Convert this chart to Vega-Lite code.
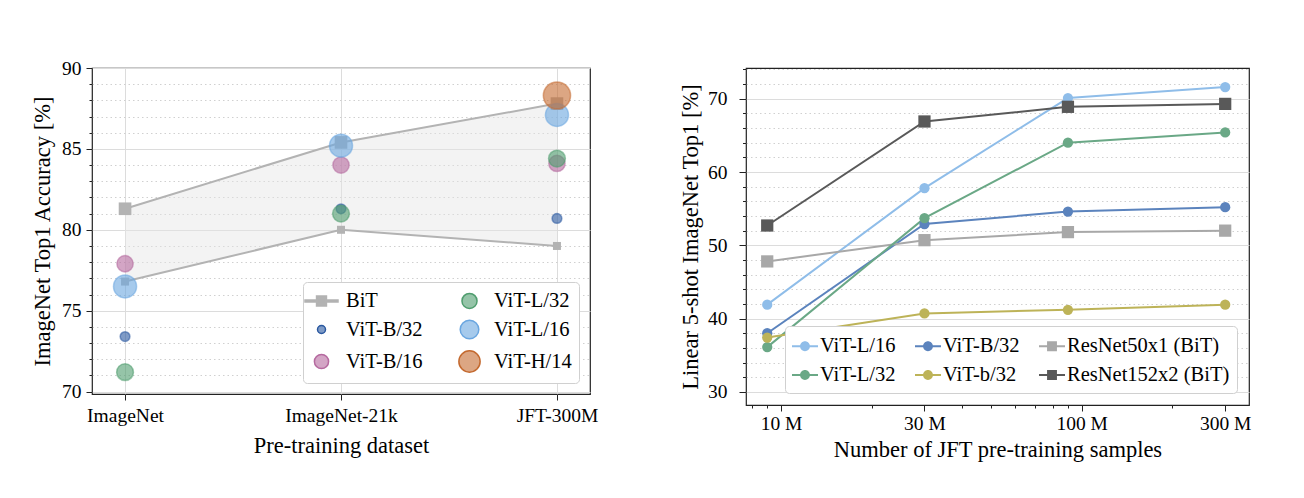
{
  "$schema": "https://vega.github.io/schema/vega-lite/v6.json",
  "padding": {"left": 30, "top": 57, "right": 5, "bottom": 5},
  "bounds": "flush",
  "spacing": 156,
  "datasets": {
    "bit": [
      {"ds": "ImageNet", "upper": 81.3, "lower": 76.8},
      {"ds": "ImageNet-21k", "upper": 85.4, "lower": 80.0},
      {"ds": "JFT-300M", "upper": 87.8, "lower": 79.0}
    ],
    "vit": [
      {"ds": "ImageNet", "model": "ViT-B/32", "acc": 73.4},
      {"ds": "ImageNet", "model": "ViT-B/16", "acc": 77.9},
      {"ds": "ImageNet", "model": "ViT-L/32", "acc": 71.2},
      {"ds": "ImageNet", "model": "ViT-L/16", "acc": 76.5},
      {"ds": "ImageNet-21k", "model": "ViT-B/32", "acc": 81.3},
      {"ds": "ImageNet-21k", "model": "ViT-B/16", "acc": 84.0},
      {"ds": "ImageNet-21k", "model": "ViT-L/32", "acc": 81.0},
      {"ds": "ImageNet-21k", "model": "ViT-L/16", "acc": 85.2},
      {"ds": "JFT-300M", "model": "ViT-B/32", "acc": 80.7},
      {"ds": "JFT-300M", "model": "ViT-B/16", "acc": 84.1},
      {"ds": "JFT-300M", "model": "ViT-L/32", "acc": 84.4},
      {"ds": "JFT-300M", "model": "ViT-L/16", "acc": 87.1},
      {"ds": "JFT-300M", "model": "ViT-H/14", "acc": 88.3}
    ],
    "fewshot": [
      {"model": "ViT-L/16", "n": 9000000, "acc": 41.9},
      {"model": "ViT-L/16", "n": 30000000, "acc": 57.8},
      {"model": "ViT-L/16", "n": 90000000, "acc": 70.1},
      {"model": "ViT-L/16", "n": 300000000, "acc": 71.6},
      {"model": "ViT-B/32", "n": 9000000, "acc": 38.0},
      {"model": "ViT-B/32", "n": 30000000, "acc": 52.9},
      {"model": "ViT-B/32", "n": 90000000, "acc": 54.6},
      {"model": "ViT-B/32", "n": 300000000, "acc": 55.2},
      {"model": "ResNet50x1 (BiT)", "n": 9000000, "acc": 47.8},
      {"model": "ResNet50x1 (BiT)", "n": 30000000, "acc": 50.7},
      {"model": "ResNet50x1 (BiT)", "n": 90000000, "acc": 51.8},
      {"model": "ResNet50x1 (BiT)", "n": 300000000, "acc": 52.0},
      {"model": "ViT-L/32", "n": 9000000, "acc": 36.1},
      {"model": "ViT-L/32", "n": 30000000, "acc": 53.7},
      {"model": "ViT-L/32", "n": 90000000, "acc": 64.0},
      {"model": "ViT-L/32", "n": 300000000, "acc": 65.4},
      {"model": "ViT-b/32", "n": 9000000, "acc": 37.4},
      {"model": "ViT-b/32", "n": 30000000, "acc": 40.7},
      {"model": "ViT-b/32", "n": 90000000, "acc": 41.2},
      {"model": "ViT-b/32", "n": 300000000, "acc": 41.9},
      {"model": "ResNet152x2 (BiT)", "n": 9000000, "acc": 52.7},
      {"model": "ResNet152x2 (BiT)", "n": 30000000, "acc": 66.9},
      {"model": "ResNet152x2 (BiT)", "n": 90000000, "acc": 68.9},
      {"model": "ResNet152x2 (BiT)", "n": 300000000, "acc": 69.3}
    ]
  },
  "resolve": {
    "scale": {"color": "independent", "stroke": "independent", "shape": "independent", "size": "independent"},
    "legend": {"color": "independent"}
  },
  "hconcat": [
    {
      "width": 498,
      "height": 326,
      "resolve": {"axis": {"y": "independent"}},
      "layer": [
        {
          "data": {"name": "bit"},
          "mark": {"type": "area", "color": "#e4e4e4", "opacity": 0.45},
          "encoding": {
            "x": {"field": "ds", "type": "nominal", "sort": ["ImageNet", "ImageNet-21k", "JFT-300M"],
                  "scale": {"type": "point", "padding": 0.153},
                  "axis": {"title": "Pre-training dataset", "labelAngle": 0, "grid": true, "gridColor": "#dcdcdc", "gridWidth": 1, "tickSize": 6, "labelPadding": 6, "titlePadding": 10}},
            "y": {"field": "upper", "type": "quantitative", "scale": {"domain": [69.85, 90], "nice": false, "zero": false},
                  "axis": {"orient": "left", "title": "ImageNet Top1 Accuracy [%]", "values": [70, 75, 80, 85, 90], "grid": true, "gridColor": "#dcdcdc", "gridWidth": 1.2, "tickSize": 6, "labelPadding": 5, "titlePadding": 7}},
            "y2": {"field": "lower"}
          }
        },
        {
          "data": {"name": "bit"},
          "mark": {"type": "line", "color": "#b3b3b3", "strokeWidth": 2},
          "encoding": {
            "x": {"field": "ds", "type": "nominal", "sort": ["ImageNet", "ImageNet-21k", "JFT-300M"]},
            "y": {"field": "upper", "type": "quantitative",
                  "axis": {"orient": "left", "title": null, "labels": false, "values": [71, 72, 73, 74, 76, 77, 78, 79, 81, 82, 83, 84, 86, 87, 88, 89], "grid": true, "gridColor": "#d0d0d0", "gridDash": [1.5, 3], "gridWidth": 1, "tickSize": 3}}
          }
        },
        {
          "data": {"name": "bit"},
          "mark": {"type": "square", "color": "#b3b3b3", "size": 160, "opacity": 1},
          "encoding": {
            "x": {"field": "ds", "type": "nominal", "sort": ["ImageNet", "ImageNet-21k", "JFT-300M"]},
            "y": {"field": "upper", "type": "quantitative", "axis": null}
          }
        },
        {
          "data": {"name": "bit"},
          "mark": {"type": "line", "color": "#b3b3b3", "strokeWidth": 2},
          "encoding": {
            "x": {"field": "ds", "type": "nominal", "sort": ["ImageNet", "ImageNet-21k", "JFT-300M"]},
            "y": {"field": "lower", "type": "quantitative", "axis": null}
          }
        },
        {
          "data": {"name": "bit"},
          "mark": {"type": "square", "color": "#b3b3b3", "size": 64, "opacity": 1},
          "encoding": {
            "x": {"field": "ds", "type": "nominal", "sort": ["ImageNet", "ImageNet-21k", "JFT-300M"]},
            "y": {"field": "lower", "type": "quantitative", "axis": null}
          }
        },
        {
          "data": {"name": "vit"},
          "mark": {"type": "circle", "fillOpacity": 0.6, "strokeOpacity": 0.55, "strokeWidth": 1.5},
          "encoding": {
            "x": {"field": "ds", "type": "nominal", "sort": ["ImageNet", "ImageNet-21k", "JFT-300M"]},
            "y": {"field": "acc", "type": "quantitative", "axis": null},
            "color": {"field": "model", "type": "nominal",
                      "scale": {"domain": ["BiT", "ViT-B/32", "ViT-B/16", "ViT-L/32", "ViT-L/16", "ViT-H/14"],
                                "range": ["#b3b3b3", "#2a58a0", "#b5699f", "#4f9d6e", "#6aa6e0", "#c46a30"]},
                      "legend": {
                        "title": null, "orient": "bottom-right", "offset": 11, "columns": 2, "columnPadding": 32, "rowPadding": 5,
                        "padding": 7, "fillColor": "#ffffff", "strokeColor": "#d0d0d0", "cornerRadius": 4,
                        "labelFontSize": 20.5, "labelFont": "Liberation Serif", "labelColor": "#000", "labelOffset": 13,
                        "symbolSize": 900, "labelLimit": 300,
                        "encode": {"symbols": {"update": {
                          "shape": {"signal": "datum.value === 'BiT' ? 'M-1,-0.065H1V0.065H-1Z M-0.3,-0.3H0.3V0.3H-0.3Z' : 'circle'"},
                          "size": {"signal": "datum.value === 'BiT' ? 1089 : datum.value === 'ViT-B/32' ? 64 : datum.value === 'ViT-B/16' ? 201 : datum.value === 'ViT-L/32' ? 227 : datum.value === 'ViT-L/16' ? 346 : 452"},
                          "fillOpacity": {"signal": "datum.value === 'BiT' ? 1 : 0.6"},
                          "opacity": {"value": 1}
                        }}}
                      }},
            "stroke": {"field": "model", "type": "nominal",
                       "scale": {"domain": ["BiT", "ViT-B/32", "ViT-B/16", "ViT-L/32", "ViT-L/16", "ViT-H/14"],
                                 "range": ["#b3b3b3", "#2a58a0", "#b5699f", "#4f9d6e", "#6aa6e0", "#c46a30"]},
                       "legend": null},
            "size": {"condition": [
                       {"test": "datum.model === 'ViT-B/32'", "value": 95},
                       {"test": "datum.model === 'ViT-B/16'", "value": 265},
                       {"test": "datum.model === 'ViT-L/32'", "value": 283},
                       {"test": "datum.model === 'ViT-L/16'", "value": 531}
                     ], "value": 740}
          }
        }
      ]
    },
    {
      "width": 503,
      "height": 337,
      "data": {"name": "fewshot"},
      "resolve": {"axis": {"x": "independent", "y": "independent"}},
      "layer": [
        {
          "mark": {"type": "line", "strokeWidth": 2},
          "encoding": {
            "x": {"field": "n", "type": "quantitative", "scale": {"type": "log", "domain": [7650000, 360000000], "nice": false},
                  "axis": {"orient": "bottom", "title": "Number of JFT pre-training samples", "values": [10000000, 30000000, 100000000, 300000000],
                           "labelExpr": "(datum.value / 1000000) + ' M'", "grid": false, "tickSize": 6, "labelPadding": 3, "titlePadding": 6}},
            "y": {"field": "acc", "type": "quantitative", "scale": {"domain": [28.2, 74.2], "nice": false, "zero": false},
                  "axis": {"orient": "left", "title": "Linear 5-shot ImageNet Top1 [%]", "values": [30, 40, 50, 60, 70], "grid": true, "gridColor": "#dcdcdc", "gridWidth": 1.2, "tickSize": 7, "labelPadding": 12, "titlePadding": 5}},
            "color": {"field": "model", "type": "nominal",
                      "scale": {"domain": ["ViT-L/16", "ViT-L/32", "ViT-B/32", "ViT-b/32", "ResNet50x1 (BiT)", "ResNet152x2 (BiT)"],
                                "range": ["#8fbde9", "#6aa886", "#5b83bd", "#bdb358", "#a8a8a8", "#595959"]},
                      "legend": {
                        "title": null, "orient": "bottom-right", "offset": 12, "columns": 3, "columnPadding": 19, "rowPadding": 5,
                        "padding": 7, "fillColor": "#ffffff", "strokeColor": "#d0d0d0", "cornerRadius": 4,
                        "labelFontSize": 20.5, "labelFont": "Liberation Serif", "labelColor": "#000", "labelOffset": 2,
                        "symbolSize": 676, "labelLimit": 300,
                        "encode": {"symbols": {"update": {
                          "shape": {"signal": "indexof(datum.value, 'ResNet') === 0 ? 'M-1,-0.08H1V0.08H-1Z M-0.38,-0.38H0.38V0.38H-0.38Z' : 'M-1,-0.08H1V0.08H-1Z M-0.38,0A0.38,0.38 0 1,1 0.38,0A0.38,0.38 0 1,1 -0.38,0Z'"},
                          "size": {"value": 676},
                          "fillOpacity": {"value": 1},
                          "strokeWidth": {"value": 0},
                          "opacity": {"value": 1}
                        }}}
                      }}
          }
        },
        {
          "mark": {"type": "point", "filled": true, "opacity": 1},
          "encoding": {
            "x": {"field": "n", "type": "quantitative",
                  "axis": {"orient": "bottom", "title": null, "labels": false, "grid": false, "tickSize": 3,
                           "values": [8000000, 9000000, 20000000, 40000000, 50000000, 60000000, 70000000, 80000000, 90000000, 200000000]}},
            "y": {"field": "acc", "type": "quantitative",
                  "axis": {"orient": "left", "title": null, "labels": false, "tickSize": 3.5, "grid": true, "gridColor": "#d0d0d0", "gridDash": [1.5, 3], "gridWidth": 1,
                           "values": [32, 34, 36, 38, 42, 44, 46, 48, 52, 54, 56, 58, 62, 64, 66, 68, 72, 74]}},
            "color": {"field": "model", "type": "nominal"},
            "shape": {"condition": {"test": "indexof(datum.model, 'ResNet') === 0", "value": "square"}, "value": "circle"},
            "size": {"condition": {"test": "indexof(datum.model, 'ResNet') === 0", "value": 150}, "value": 105}
          }
        }
      ]
    }
  ],
  "config": {
    "font": "Liberation Serif",
    "view": {"stroke": "#222222", "strokeWidth": 1.2},
    "axis": {
      "labelFont": "Liberation Serif", "titleFont": "Liberation Serif",
      "labelFontSize": 19.5, "titleFontSize": 22.5, "titleFontWeight": "normal",
      "labelColor": "#000000", "titleColor": "#000000", "tickColor": "#222222", "tickWidth": 1,
      "domain": false
    }
  }
}
